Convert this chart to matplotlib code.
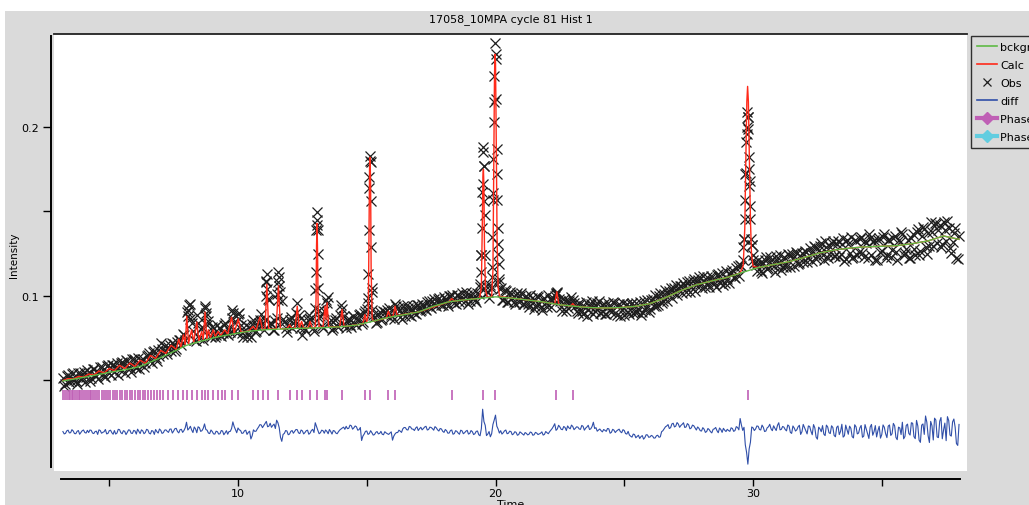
import numpy as np
import matplotlib
matplotlib.use("Agg")
import matplotlib.pyplot as plt
from matplotlib.lines import Line2D
from matplotlib.patches import Rectangle

# ---------------- text ----------------
title = "17058_10MPA cycle 81 Hist 1"
x_label = "Time"
y_label = "Intensity"
legend_labels = ["bckgr", "Calc", "Obs", "diff", "Phase 1", "Phase 2"]
x_major = [10, 20, 30]
x_minor = [5, 15, 25, 35]
y_major = [0.1, 0.2]
y_minor = [0.05, 0.15]

# ---------------- observed data (regular channels, step 0.1 from 3.2) ----------------
tof_start = 3.2
tof_step = 0.1
obs = [
    0.0517, 0.0480, 0.0530, 0.0499, 0.0542, 0.0498, 0.0545, 0.0510, 0.0553, 0.0520,
    0.0551, 0.0514, 0.0567, 0.0526, 0.0547, 0.0578, 0.0525, 0.0584, 0.0547, 0.0592,
    0.0551, 0.0601, 0.0564, 0.0612, 0.0547, 0.0616, 0.0576, 0.0625, 0.0583, 0.0636,
    0.0600, 0.0628, 0.0601, 0.0651, 0.0618, 0.0670, 0.0635, 0.0682, 0.0721, 0.0656,
    0.0672, 0.0701, 0.0672, 0.0713, 0.0689, 0.0738, 0.0711, 0.0769, 0.0905, 0.0948,
    0.0842, 0.0738, 0.0887, 0.0752, 0.0815, 0.0930, 0.0826, 0.0761, 0.0818, 0.0758,
    0.0829, 0.0770, 0.0781, 0.0842, 0.0771, 0.0788, 0.0902, 0.0792, 0.0895, 0.0829,
    0.0756, 0.0830, 0.0777, 0.0758, 0.0857, 0.0793, 0.0838, 0.0891, 0.0800, 0.1086,
    0.0975, 0.0841, 0.0801, 0.0868, 0.1112, 0.0968, 0.0844, 0.0786, 0.0857, 0.0811,
    0.0851, 0.0958, 0.0808, 0.0768, 0.0797, 0.0856, 0.0866, 0.0809, 0.1035, 0.1390,
    0.0884, 0.0808, 0.0978, 0.0996, 0.0856, 0.0813, 0.0871, 0.0815, 0.0948, 0.0883,
    0.0812, 0.0866, 0.0818, 0.0876, 0.0828, 0.0887, 0.0834, 0.0897, 0.0921, 0.1705,
    0.1025, 0.0878, 0.0849, 0.0903, 0.0865, 0.0904, 0.0917, 0.0870, 0.0916, 0.0951,
    0.0929, 0.0876, 0.0942, 0.0883, 0.0930, 0.0879, 0.0940, 0.0891, 0.0947, 0.0915,
    0.0949, 0.0915, 0.0968, 0.0926, 0.0980, 0.0941, 0.0989, 0.0949, 0.0994, 0.0956,
    0.1000, 0.1006, 0.0958, 0.1006, 0.0966, 0.1017, 0.0971, 0.1004, 0.0968, 0.1015,
    0.0975, 0.1020, 0.1052, 0.1660, 0.1480, 0.1024, 0.1065, 0.1610, 0.2400, 0.1310,
    0.1046, 0.0975, 0.1028, 0.0965, 0.1014, 0.0965, 0.1003, 0.0967, 0.1015, 0.0951,
    0.1000, 0.0936, 0.0986, 0.0922, 0.0999, 0.0951, 0.0917, 0.0990, 0.0936, 0.0983,
    0.0976, 0.0998, 0.1024, 0.0971, 0.0910, 0.0968, 0.0926, 0.0957, 0.0978, 0.0938,
    0.0900, 0.0955, 0.0895, 0.0966, 0.0915, 0.0952, 0.0891, 0.0943, 0.0968, 0.0902,
    0.0950, 0.0896, 0.0939, 0.0907, 0.0961, 0.0890, 0.0952, 0.0915, 0.0886, 0.0955,
    0.0895, 0.0960, 0.0903, 0.0908, 0.0967, 0.0906, 0.0917, 0.0977, 0.0922, 0.0982,
    0.1006, 0.0946, 0.1019, 0.0969, 0.1033, 0.1014, 0.1045, 0.1022, 0.1063, 0.1042,
    0.1061, 0.1079, 0.1023, 0.1090, 0.1056, 0.1103, 0.1067, 0.1111, 0.1045, 0.1091,
    0.1110, 0.1052, 0.1114, 0.1069, 0.1123, 0.1074, 0.1134, 0.1077, 0.1101, 0.1132,
    0.1153, 0.1106, 0.1179, 0.1186, 0.1290, 0.1720, 0.2060, 0.1680, 0.1245, 0.1182,
    0.1213, 0.1148, 0.1197, 0.1232, 0.1165, 0.1214, 0.1175, 0.1234, 0.1187, 0.1156,
    0.1230, 0.1173, 0.1240, 0.1250, 0.1180, 0.1254, 0.1193, 0.1257, 0.1269, 0.1200,
    0.1282, 0.1209, 0.1291, 0.1234, 0.1298, 0.1243, 0.1323, 0.1224, 0.1291, 0.1325,
    0.1236, 0.1328, 0.1251, 0.1343, 0.1216, 0.1308, 0.1346, 0.1228, 0.1323, 0.1262,
    0.1347, 0.1231, 0.1316, 0.1364, 0.1240, 0.1329, 0.1212, 0.1345, 0.1266, 0.1368,
    0.1243, 0.1334, 0.1273, 0.1353, 0.1213, 0.1318, 0.1364, 0.1256, 0.1331, 0.1227,
    0.1369, 0.1244, 0.1394, 0.1269, 0.1410, 0.1290, 0.1373, 0.1436, 0.1293, 0.1427,
    0.1390, 0.1288, 0.1439, 0.1325, 0.1403, 0.1254, 0.1375, 0.1223, 0.1353,
]

# observed data on the in-between channels (step 0.1 from 3.25)
tof_mid_start = 3.25
obs_mid = [
    0.0469, 0.0525, 0.0490, 0.0537, 0.0503, 0.0477, 0.0547, 0.0518, 0.0489, 0.0560,
    0.0498, 0.0569, 0.0530, 0.0509, 0.0582, 0.0539, 0.0520, 0.0589, 0.0532, 0.0589,
    0.0580, 0.0533, 0.0605, 0.0602, 0.0621, 0.0580, 0.0552, 0.0627, 0.0575, 0.0568,
    0.0619, 0.0578, 0.0642, 0.0663, 0.0601, 0.0676, 0.0617, 0.0644, 0.0685, 0.0706,
    0.0655, 0.0709, 0.0723, 0.0677, 0.0728, 0.0742, 0.0778, 0.0742, 0.0884, 0.0862,
    0.0795, 0.0736, 0.0841, 0.0806, 0.0741, 0.0881, 0.0854, 0.0760, 0.0808, 0.0769,
    0.0809, 0.0762, 0.0831, 0.0782, 0.0807, 0.0871, 0.0847, 0.0781, 0.0865, 0.0782,
    0.0791, 0.0760, 0.0812, 0.0832, 0.0786, 0.0821, 0.0857, 0.0836, 0.0859, 0.0985,
    0.0838, 0.0799, 0.0854, 0.0978, 0.1025, 0.0864, 0.0808, 0.0831, 0.0875, 0.0840,
    0.0902, 0.0889, 0.0867, 0.0813, 0.0838, 0.0888, 0.0856, 0.0793, 0.1452, 0.0869,
    0.0820, 0.0912, 0.0958, 0.0844, 0.0801, 0.0857, 0.0822, 0.0887, 0.0921, 0.0831,
    0.0858, 0.0828, 0.0884, 0.0834, 0.0865, 0.0894, 0.0845, 0.0913, 0.0990, 0.1790,
    0.0890, 0.0842, 0.0892, 0.0860, 0.0910, 0.0889, 0.0929, 0.0887, 0.0862, 0.0938,
    0.0910, 0.0863, 0.0916, 0.0946, 0.0889, 0.0924, 0.0899, 0.0944, 0.0910, 0.0954,
    0.0922, 0.0965, 0.0935, 0.0972, 0.0945, 0.0983, 0.0961, 0.0946, 0.0985, 0.0939,
    0.0999, 0.0983, 0.0955, 0.1004, 0.0974, 0.0988, 0.1021, 0.0955, 0.1000, 0.0986,
    0.0964, 0.1012, 0.1240, 0.1770, 0.1025, 0.0987, 0.1110, 0.2150, 0.1720, 0.1080,
    0.0976, 0.1033, 0.0962, 0.1021, 0.0988, 0.0952, 0.1020, 0.1000, 0.0950, 0.0994,
    0.0951, 0.1007, 0.0965, 0.0940, 0.0994, 0.0934, 0.0982, 0.0957, 0.1005, 0.0932,
    0.0991, 0.1015, 0.0981, 0.0935, 0.0981, 0.0909, 0.0968, 0.0996, 0.0958, 0.0909,
    0.0957, 0.0910, 0.0943, 0.0882, 0.0937, 0.0970, 0.0909, 0.0956, 0.0900, 0.0946,
    0.0892, 0.0958, 0.0917, 0.0965, 0.0902, 0.0945, 0.0881, 0.0961, 0.0948, 0.0903,
    0.0955, 0.0898, 0.0960, 0.0925, 0.0888, 0.0969, 0.0932, 0.0906, 0.0974, 0.0938,
    0.0941, 0.1001, 0.0958, 0.1014, 0.0971, 0.1030, 0.0991, 0.1048, 0.1003, 0.1060,
    0.1016, 0.1058, 0.1084, 0.1025, 0.1091, 0.1032, 0.1097, 0.1071, 0.1117, 0.1052,
    0.1070, 0.1120, 0.1088, 0.1051, 0.1131, 0.1096, 0.1066, 0.1145, 0.1077, 0.1144,
    0.1110, 0.1163, 0.1120, 0.1175, 0.1340, 0.1960, 0.1750, 0.1300, 0.1195, 0.1150,
    0.1187, 0.1134, 0.1211, 0.1160, 0.1233, 0.1186, 0.1141, 0.1214, 0.1243, 0.1171,
    0.1190, 0.1251, 0.1174, 0.1222, 0.1262, 0.1187, 0.1229, 0.1201, 0.1261, 0.1224,
    0.1253, 0.1297, 0.1218, 0.1274, 0.1313, 0.1215, 0.1288, 0.1251, 0.1312, 0.1236,
    0.1310, 0.1228, 0.1308, 0.1206, 0.1333, 0.1252, 0.1226, 0.1331, 0.1244, 0.1337,
    0.1254, 0.1325, 0.1223, 0.1345, 0.1322, 0.1210, 0.1334, 0.1259, 0.1351, 0.1227,
    0.1330, 0.1228, 0.1344, 0.1259, 0.1329, 0.1379, 0.1240, 0.1279, 0.1227, 0.1345,
    0.1276, 0.1379, 0.1242, 0.1354, 0.1395, 0.1250, 0.1295, 0.1378, 0.1433, 0.1311,
    0.1422, 0.1307, 0.1388, 0.1445, 0.1281, 0.1318, 0.1402, 0.1216,
]

# difference curve (obs - calc), plotted with an offset
diff_offset = 0.0195
diff_resid = [
    0.0003, -0.0008, 0.0011, -0.0004, 0.0006, -0.0010, 0.0009, -0.0002, 0.0012, -0.0006,
    -0.0003, 0.0010, -0.0009, 0.0005, 0.0013, -0.0007, 0.0002, -0.0011, 0.0008, -0.0004,
    0.0009, -0.0006, 0.0014, -0.0010, 0.0004, -0.0002, 0.0011, -0.0008, 0.0006, 0.0017,
    -0.0009, 0.0007, -0.0003, 0.0012, -0.0011, 0.0005, 0.0015, -0.0006, 0.0010, -0.0004,
    0.0013, -0.0002, 0.0018, 0.0006, 0.0022, -0.0005, 0.0016, 0.0009, 0.0058, 0.0021,
    0.0012, 0.0030, -0.0004, 0.0026, 0.0008, 0.0048, 0.0011, -0.0009, 0.0003, -0.0012,
    0.0002, -0.0010, 0.0006, -0.0005, -0.0013, 0.0004, 0.0060, 0.0015, 0.0024, 0.0009,
    -0.0006, 0.0011, -0.0002, -0.0041, 0.0013, 0.0005, 0.0030, 0.0042, 0.0038, 0.0063,
    0.0035, 0.0028, 0.0047, 0.0070, 0.0026, -0.0055, -0.0008, 0.0006, -0.0012, 0.0009,
    0.0004, 0.0014, -0.0009, 0.0007, -0.0003, 0.0011, -0.0006, 0.0016, 0.0055, 0.0010,
    -0.0004, 0.0008, 0.0012, -0.0010, 0.0003, 0.0009, -0.0006, 0.0002, 0.0018, 0.0029,
    0.0034, 0.0022, 0.0037, 0.0025, 0.0031, 0.0014, -0.0050, -0.0012, 0.0006, -0.0009,
    -0.0004, -0.0015, 0.0003, -0.0008, -0.0013, 0.0002, -0.0010, -0.0006, -0.0048, -0.0011,
    -0.0003, 0.0005, 0.0019, 0.0026, 0.0012, 0.0030, 0.0017, 0.0024, 0.0009, 0.0028,
    0.0021, 0.0034, 0.0015, 0.0027, 0.0011, 0.0025, 0.0006, 0.0018, -0.0002, 0.0008,
    -0.0006, 0.0012, -0.0009, 0.0004, -0.0013, 0.0007, -0.0004, 0.0010, -0.0008, 0.0002,
    -0.0010, 0.0006, -0.0022, 0.0135, 0.0040, -0.0012, -0.0028, 0.0045, 0.0100, 0.0018,
    0.0008, -0.0004, 0.0012, -0.0007, 0.0003, -0.0011, -0.0002, -0.0015, -0.0005, -0.0018,
    -0.0008, -0.0013, -0.0003, -0.0016, -0.0006, -0.0011, 0.0001, -0.0014, -0.0004, 0.0002,
    0.0021, 0.0049, 0.0018, 0.0030, 0.0014, 0.0027, 0.0036, 0.0019, 0.0033, 0.0022,
    0.0029, 0.0016, 0.0034, 0.0023, 0.0040, 0.0019, 0.0058, 0.0026, 0.0012, 0.0008,
    0.0015, 0.0004, 0.0019, -0.0002, 0.0011, 0.0006, 0.0017, -0.0004, 0.0009, -0.0012,
    -0.0018, -0.0030, -0.0015, -0.0026, -0.0038, -0.0021, -0.0033, -0.0017, -0.0029, -0.0024,
    -0.0035, -0.0019, -0.0028, 0.0008, 0.0031, 0.0044, 0.0026, 0.0052, 0.0035, 0.0047,
    0.0039, 0.0055, 0.0030, 0.0043, 0.0024, 0.0037, 0.0012, 0.0022, 0.0006, 0.0017,
    0.0003, 0.0014, -0.0005, 0.0019, 0.0008, 0.0024, -0.0002, 0.0011, 0.0016, 0.0004,
    0.0021, 0.0009, 0.0027, 0.0080, 0.0010, -0.0075, -0.0190, -0.0060, 0.0025, 0.0018,
    0.0034, 0.0012, 0.0028, 0.0006, 0.0031, 0.0019, 0.0037, 0.0009, 0.0055, 0.0016,
    0.0029, 0.0007, 0.0035, -0.0008, 0.0024, 0.0013, 0.0040, 0.0002, 0.0027, -0.0011,
    0.0033, -0.0016, 0.0025, -0.0042, 0.0019, 0.0038, -0.0021, 0.0030, -0.0009, 0.0027,
    -0.0028, 0.0036, 0.0004, -0.0030, 0.0041, -0.0013, 0.0022, -0.0035, 0.0031, -0.0006,
    0.0039, -0.0024, 0.0017, -0.0038, 0.0045, 0.0002, -0.0029, 0.0034, -0.0015, 0.0028,
    -0.0033, 0.0042, -0.0010, 0.0037, -0.0045, 0.0024, 0.0058, -0.0026, 0.0047, -0.0018,
    0.0052, -0.0039, 0.0036, -0.0061, 0.0048, 0.0095, -0.0022, 0.0063, -0.0047, 0.0071,
    -0.0033, 0.0086, 0.0012, -0.0051, 0.0068, -0.0024, 0.0077, -0.0068, 0.0045,
]
diff_resid_mid = [
    -0.0011, 0.0007, -0.0005, 0.0014, -0.0009, 0.0004, -0.0013, 0.0008, -0.0003, 0.0010,
    0.0012, -0.0006, 0.0003, -0.0014, 0.0009, -0.0002, 0.0015, -0.0008, 0.0011, -0.0013,
    -0.0012, 0.0016, -0.0004, 0.0008, -0.0015, 0.0013, -0.0007, 0.0010, -0.0012, 0.0004,
    0.0013, -0.0010, 0.0016, -0.0007, 0.0009, -0.0014, 0.0002, 0.0018, -0.0008, 0.0011,
    0.0004, 0.0017, -0.0006, 0.0020, 0.0003, 0.0014, -0.0002, 0.0025, 0.0012, 0.0034,
    -0.0003, 0.0019, 0.0031, 0.0004, 0.0022, 0.0015, -0.0006, 0.0012, -0.0011, 0.0005,
    -0.0012, 0.0009, -0.0016, 0.0008, 0.0003, 0.0021, 0.0033, -0.0004, 0.0013, -0.0008,
    0.0007, -0.0014, 0.0005, -0.0022, 0.0004, 0.0019, 0.0044, 0.0026, 0.0049, 0.0031,
    0.0052, 0.0039, 0.0021, 0.0055, -0.0031, -0.0014, 0.0009, -0.0016, 0.0004, -0.0007,
    0.0015, -0.0005, 0.0012, -0.0011, 0.0008, -0.0013, 0.0009, -0.0003, 0.0032, -0.0010,
    0.0011, -0.0007, 0.0004, 0.0015, -0.0012, 0.0006, -0.0010, 0.0012, 0.0024, 0.0016,
    0.0020, 0.0041, 0.0017, 0.0036, 0.0011, 0.0027, -0.0024, 0.0004, -0.0014, 0.0008,
    -0.0018, -0.0002, -0.0011, 0.0004, -0.0016, -0.0005, -0.0014, 0.0001, -0.0024, -0.0003,
    0.0011, -0.0002, 0.0027, 0.0014, 0.0033, 0.0018, 0.0009, 0.0031, 0.0020, 0.0013,
    0.0030, 0.0012, 0.0029, 0.0020, 0.0032, 0.0013, 0.0021, 0.0004, 0.0015, -0.0007,
    0.0009, -0.0013, 0.0008, -0.0006, 0.0011, -0.0010, 0.0005, -0.0012, 0.0009, -0.0015,
    0.0004, -0.0016, 0.0020, 0.0062, -0.0021, 0.0003, -0.0010, 0.0071, 0.0035, -0.0006,
    -0.0012, 0.0007, -0.0010, 0.0005, -0.0016, 0.0002, -0.0019, 0.0001, -0.0012, -0.0003,
    -0.0017, 0.0000, -0.0019, -0.0002, -0.0015, -0.0007, -0.0018, 0.0003, -0.0010, 0.0012,
    0.0034, 0.0010, 0.0040, 0.0016, 0.0033, 0.0009, 0.0025, 0.0041, 0.0014, 0.0031,
    0.0018, 0.0039, 0.0011, 0.0030, 0.0015, 0.0033, 0.0021, 0.0005, 0.0018, 0.0001,
    0.0010, 0.0021, -0.0007, 0.0016, -0.0003, 0.0012, 0.0002, 0.0014, -0.0009, 0.0004,
    -0.0025, -0.0012, -0.0034, -0.0019, -0.0027, -0.0042, -0.0016, -0.0031, -0.0020, -0.0036,
    -0.0022, -0.0031, 0.0002, 0.0019, 0.0036, 0.0021, 0.0048, 0.0030, 0.0056, 0.0028,
    0.0046, 0.0027, 0.0050, 0.0019, 0.0041, 0.0025, 0.0030, 0.0008, 0.0026, -0.0002,
    0.0021, 0.0002, 0.0016, 0.0027, -0.0004, 0.0015, 0.0022, 0.0003, 0.0009, 0.0025,
    0.0004, 0.0032, 0.0013, 0.0041, 0.0028, -0.0120, -0.0100, 0.0030, 0.0009, 0.0036,
    0.0015, 0.0041, 0.0003, 0.0025, 0.0046, 0.0008, 0.0022, 0.0040, 0.0013, 0.0033,
    0.0015, 0.0042, -0.0002, 0.0036, 0.0006, 0.0031, -0.0014, 0.0045, 0.0008, 0.0036,
    0.0005, 0.0044, -0.0030, 0.0029, 0.0002, -0.0012, 0.0041, -0.0004, 0.0037, -0.0020,
    0.0028, -0.0015, 0.0046, -0.0022, 0.0013, 0.0035, -0.0027, 0.0043, -0.0011, 0.0025,
    -0.0031, 0.0044, -0.0012, 0.0030, -0.0019, 0.0038, 0.0008, -0.0036, 0.0042, -0.0010,
    0.0035, -0.0020, 0.0051, -0.0032, 0.0029, -0.0015, -0.0040, 0.0039, -0.0008, 0.0055,
    -0.0027, 0.0069, -0.0048, 0.0041, -0.0014, 0.0058, -0.0062, 0.0037, 0.0082, -0.0029,
    0.0064, -0.0040, 0.0053, 0.0091, -0.0018, 0.0060, 0.0028, -0.0079,
]

# extra observed points on the Bragg peaks
tof_peaks = [
    8.05, 8.12, 8.70, 8.74, 9.77, 10.03,
    11.08, 11.10, 11.12, 11.14,
    11.53, 11.55, 11.57, 11.59,
    13.00, 13.02, 13.04, 13.06, 13.08, 13.10, 13.12, 13.14,
    15.04, 15.06, 15.08, 15.10, 15.12, 15.14, 15.16, 15.18, 15.20, 15.22,
    19.40, 19.43, 19.45, 19.47, 19.49, 19.51, 19.53, 19.55, 19.57, 19.59, 19.62,
    19.84, 19.86, 19.88, 19.90, 19.92, 19.94, 19.96, 19.98, 20.00, 20.02, 20.04,
    20.06, 20.08, 20.10, 20.12, 20.14, 20.17,
    22.36, 22.40,
    29.62, 29.65, 29.68, 29.70, 29.72, 29.74, 29.76, 29.78, 29.80, 29.82, 29.84,
    29.86, 29.88, 29.90, 29.92, 29.95, 29.98,
]
obs_peaks = [
    0.0920, 0.0950, 0.0940, 0.0900, 0.0920, 0.0900,
    0.1000, 0.1080, 0.1130, 0.1040,
    0.1010, 0.1080, 0.1140, 0.1060,
    0.0930, 0.1140, 0.1390, 0.1495, 0.1420, 0.1250, 0.1050, 0.0920,
    0.0960, 0.1130, 0.1390, 0.1640, 0.1830, 0.1800, 0.1560, 0.1290, 0.1050, 0.0920,
    0.1070, 0.1140, 0.1240, 0.1400, 0.1615, 0.1850, 0.1880, 0.1770, 0.1560, 0.1240, 0.1060,
    0.1050, 0.1170, 0.1350, 0.1570, 0.1810, 0.2030, 0.2300, 0.2497, 0.2430, 0.2165, 0.1870,
    0.1570, 0.1400, 0.1250, 0.1190, 0.1100, 0.1040,
    0.1010, 0.1020,
    0.1210, 0.1340, 0.1455, 0.1570, 0.1730, 0.1910, 0.2000, 0.2090, 0.2060, 0.1990, 0.1820,
    0.1650, 0.1530, 0.1455, 0.1340, 0.1300, 0.1210,
]

# ---------------- background ----------------
tof_bkg = [3.2, 3.8, 4.4, 5.0, 5.6, 6.2, 6.8, 7.4, 8.0, 8.6, 9.2, 9.8, 10.4, 11.0,
           11.6, 12.2, 12.8, 13.4, 14.0, 14.6, 15.2, 15.8, 16.4, 17.0, 17.6, 18.2,
           18.8, 19.4, 20.0, 20.6, 21.2, 21.8, 22.4, 23.0, 23.6, 24.2, 24.8, 25.4,
           26.0, 26.6, 27.2, 27.8, 28.4, 29.0, 29.6, 30.2, 30.8, 31.4, 32.0, 32.6,
           33.2, 33.8, 34.4, 35.0, 35.6, 36.2, 36.8, 37.4, 38.0]
bkg = [0.0497, 0.0513, 0.0530, 0.0548, 0.0563, 0.0583, 0.0622, 0.0664, 0.0708,
       0.0734, 0.0758, 0.0775, 0.0791, 0.0800, 0.0804, 0.0808, 0.0810, 0.0813,
       0.0818, 0.0828, 0.0849, 0.0872, 0.0888, 0.0905, 0.0940, 0.0966, 0.0977,
       0.0986, 0.0995, 0.0988, 0.0977, 0.0966, 0.0950, 0.0940, 0.0932, 0.0929,
       0.0931, 0.0938, 0.0955, 0.0990, 0.1032, 0.1066, 0.1089, 0.1110, 0.1140,
       0.1168, 0.1186, 0.1203, 0.1228, 0.1255, 0.1273, 0.1284, 0.1291, 0.1294,
       0.1298, 0.1310, 0.1326, 0.1355, 0.1335]

# ---------------- calculated pattern ----------------
tof_calc = [
    3.2, 3.4, 3.6, 3.8, 4.0, 4.2, 4.4, 4.6, 4.8, 5.0, 5.2, 5.4, 5.6, 5.8, 6.0, 6.2,
    6.4, 6.6, 6.8, 7.0, 7.2, 7.4, 7.6,
    7.70, 7.78, 7.88, 7.95, 8.01, 8.08, 8.20, 8.28, 8.40, 8.48, 8.59, 8.65, 8.72,
    8.79, 8.85, 8.93, 9.04, 9.12, 9.23, 9.32, 9.49, 9.60, 9.75, 9.85, 10.01, 10.12,
    10.40, 10.59, 10.70, 10.85, 10.95, 11.05, 11.12, 11.19, 11.48, 11.57, 11.65,
    11.90, 12.00, 12.10, 12.22, 12.30, 12.38, 12.47, 12.55, 12.72, 12.80, 12.88,
    13.00, 13.03, 13.05, 13.07, 13.09, 13.11, 13.15, 13.30, 13.38, 13.42, 13.46,
    13.52, 13.95, 14.04, 14.12, 14.85, 14.93, 15.00, 15.06, 15.09, 15.11, 15.13,
    15.15, 15.17, 15.21, 15.26, 15.76, 15.84, 15.92, 16.02, 16.10, 16.18, 17.0,
    18.20, 18.30, 18.40, 19.38, 19.45, 19.49, 19.51, 19.53, 19.55, 19.57, 19.61,
    19.68, 19.85, 19.90, 19.93, 19.96, 19.98, 20.00, 20.03, 20.06, 20.10, 20.16,
    20.6, 21.2, 21.8, 22.30, 22.38, 22.46, 22.92, 23.00, 23.08, 23.6, 24.2, 24.8,
    25.4, 26.0, 26.6, 27.2, 27.8, 28.4, 29.0, 29.50, 29.62, 29.68, 29.72, 29.76,
    29.79, 29.82, 29.86, 29.90, 29.94, 30.00, 30.2, 30.8, 31.4, 32.0, 32.6, 33.2,
    33.8, 34.4, 35.0, 35.6, 36.2, 36.8, 37.4, 38.0,
]
calc = [
    0.0500, 0.0511, 0.0509, 0.0524, 0.0520, 0.0538, 0.0533, 0.0556, 0.0545, 0.0571,
    0.0558, 0.0590, 0.0570, 0.0603, 0.0583, 0.0620, 0.0601, 0.0648, 0.0630, 0.0678,
    0.0660, 0.0708, 0.0684,
    0.0745, 0.0695, 0.0770, 0.0712, 0.0880, 0.0718, 0.0800, 0.0728, 0.0846, 0.0735,
    0.0790, 0.0742, 0.0905, 0.0745, 0.0800, 0.0752, 0.0800, 0.0760, 0.0790, 0.0765,
    0.0800, 0.0773, 0.0875, 0.0779, 0.0865, 0.0785,
    0.0792, 0.0820, 0.0797, 0.0875, 0.0801, 0.0803, 0.1070, 0.0804, 0.0805, 0.1060,
    0.0806, 0.0807, 0.0830, 0.0808, 0.0809, 0.0940, 0.0809, 0.0850, 0.0810, 0.0810,
    0.0850, 0.0811,
    0.0815, 0.0980, 0.1300, 0.1430, 0.1250, 0.0950, 0.0815, 0.0815, 0.0940, 0.0860,
    0.0960, 0.0816, 0.0818, 0.0920, 0.0819, 0.0835, 0.0890, 0.0845, 0.0900, 0.1400,
    0.1780, 0.1820, 0.1650, 0.1150, 0.0870, 0.0851, 0.0869, 0.0910, 0.0875, 0.0880,
    0.0940, 0.0884, 0.0905,
    0.0966, 0.0985, 0.0970, 0.0986, 0.1050, 0.1450, 0.1700, 0.1750, 0.1650, 0.1300,
    0.1040, 0.0992, 0.0996, 0.1150, 0.1700, 0.2300, 0.2430, 0.2380, 0.1900, 0.1350,
    0.1050, 0.0997,
    0.0988, 0.0977, 0.0966, 0.0953, 0.1025, 0.0949, 0.0941, 0.0955, 0.0940, 0.0932,
    0.0929, 0.0931, 0.0938, 0.0955, 0.0990, 0.1032, 0.1066, 0.1089, 0.1110, 0.1136,
    0.1180, 0.1400, 0.1800, 0.2150, 0.2240, 0.2150, 0.1800, 0.1450, 0.1250, 0.1175,
    0.1168, 0.1186, 0.1203, 0.1228, 0.1255, 0.1273, 0.1284, 0.1291, 0.1294, 0.1298,
    0.1310, 0.1326, 0.1355, 0.1335,
]

# ---------------- reflection tick marks (phase 1) ----------------
phase1_ticks = [
    3.22, 3.29, 3.35, 3.42, 3.48, 3.55, 3.61, 3.68, 3.74, 3.81, 3.88, 3.95, 4.02,
    4.09, 4.16, 4.24, 4.31, 4.38, 4.46, 4.54, 4.62, 4.70, 4.78, 4.86, 4.95, 5.04,
    5.13, 5.22, 5.31, 5.40, 5.50, 5.60, 5.70, 5.80, 5.90, 6.01, 6.12, 6.20, 6.31,
    6.40, 6.52, 6.61, 6.73, 6.85, 6.97,
    7.10, 7.29, 7.49, 7.68, 7.88, 8.01, 8.20, 8.40, 8.59, 8.72, 8.85, 9.04, 9.23,
    9.37, 9.49, 9.75, 10.01, 10.59, 10.79, 10.98, 11.18, 11.57, 12.00, 12.28, 12.47,
    12.80, 13.06, 13.38, 13.45, 14.03, 14.93, 15.13, 15.84, 16.10, 18.30, 19.53,
    19.98, 22.35, 23.01, 29.80,
]
tick_level = 0.0414

# ---------------- colours ----------------
c_obs = "#1e1e1e"
c_calc = "#ff2a1a"
c_bkg = "#5fba46"
c_diff = "#2f4ea8"
c_ph1 = "#bf5fb5"
c_ph2 = "#62cde0"
c_gray = "#dadada"

W, H = 1029, 506
fig = plt.figure(figsize=(W / 100, H / 100), dpi=100)
fig.patch.set_facecolor("white")
fig.add_artist(Rectangle((5 / W, 0), 1, 1 - 12 / H, transform=fig.transFigure,
                         facecolor=c_gray, edgecolor="none", zorder=-10))

ax = fig.add_axes([54 / W, 1 - 472 / H, (967 - 54) / W, (472 - 35) / H])
ax.set_facecolor("white")

tof = tof_start + tof_step * np.arange(len(obs))
tof_mid = tof_mid_start + tof_step * np.arange(len(obs_mid))
all_tof = np.concatenate([tof, tof_mid, np.asarray(tof_peaks)])
all_obs = np.concatenate([np.asarray(obs), np.asarray(obs_mid), np.asarray(obs_peaks)])

tof_diff = np.concatenate([tof, tof_mid_start + tof_step * np.arange(len(diff_resid_mid))])
val_diff = np.concatenate([np.asarray(diff_resid), np.asarray(diff_resid_mid)])
order = np.argsort(tof_diff)

ax.plot(all_tof, all_obs, ls="none", marker="x", ms=6.5, mew=0.9,
        color=c_obs, zorder=2)
ax.plot(tof_calc, calc, color=c_calc, lw=1.0, zorder=3)
ax.plot(tof_bkg, bkg, color=c_bkg, lw=1.0, zorder=4)
ax.plot(tof_diff[order], val_diff[order] + diff_offset, color=c_diff, lw=0.8, zorder=3)
ax.plot(phase1_ticks, [tick_level] * len(phase1_ticks), ls="none", marker="|",
        ms=7.5, mew=1.2, color=c_ph1, zorder=3)

ax.set_xlim(2.854, 38.31)
ax.set_ylim(-0.00355, 0.2550)

ax.spines["right"].set_visible(False)
ax.spines["top"].set_linewidth(1.3)
ax.spines["top"].set_color("#222222")
ax.spines["left"].set_position(("outward", 2))
ax.spines["left"].set_bounds(-0.0012, 0.2538)
ax.spines["left"].set_linewidth(1.4)
ax.spines["bottom"].set_position(("outward", 6))
ax.spines["bottom"].set_bounds(3.13, 38.04)
ax.spines["bottom"].set_linewidth(1.4)

ax.set_xticks(x_major)
ax.set_xticks(x_minor, minor=True)
ax.set_yticks(y_major)
ax.set_yticks(y_minor, minor=True)
ax.set_xticklabels([str(v) for v in x_major])
ax.set_yticklabels([str(v) for v in y_major])
ax.tick_params(axis="y", which="both", direction="out", length=6, width=1,
               colors="black", labelsize=8, pad=3)
ax.tick_params(axis="x", which="both", direction="out", length=5, width=1,
               colors="black", labelsize=8, pad=1.5)

fig.text(510.5 / W, 1 - 20 / H, title, ha="center", va="center", fontsize=8)
fig.text(14 / W, 1 - 255 / H, y_label, rotation=90, ha="center", va="center",
         fontsize=7.5)
fig.text(510.5 / W, 1 - 500 / H, x_label, ha="center", va="top", fontsize=8)

handles = [
    Line2D([], [], color=c_bkg, lw=1.2),
    Line2D([], [], color=c_calc, lw=1.2),
    Line2D([], [], color=c_obs, ls="none", marker="x", ms=6, mew=0.9),
    Line2D([], [], color=c_diff, lw=1.2),
    Line2D([], [], color=c_ph1, lw=3, marker="D", ms=6),
    Line2D([], [], color=c_ph2, lw=3, marker="D", ms=6),
]
fig.legend(handles, legend_labels, loc="upper left",
           bbox_to_anchor=(971 / W, 1 - 37 / H), bbox_transform=fig.transFigure,
           borderaxespad=0, fontsize=8, frameon=True, fancybox=False,
           edgecolor="#303030", facecolor=c_gray, framealpha=1,
           handlelength=1.8, handletextpad=0.3, labelspacing=0.72, borderpad=0.55)

fig.savefig("out.png", dpi=100)
